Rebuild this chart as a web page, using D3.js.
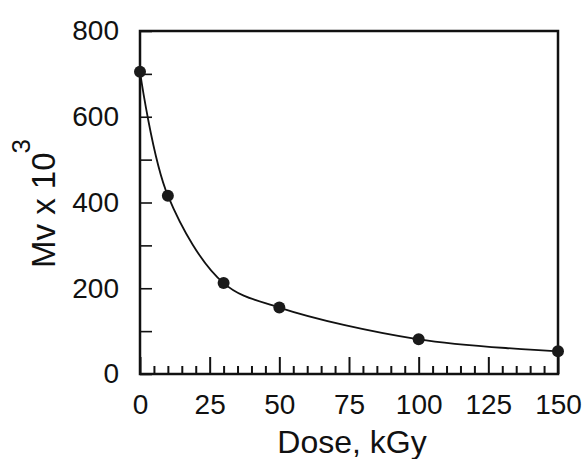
<!DOCTYPE html>
<html>
<head>
<meta charset="utf-8">
<script src="https://cdn.jsdelivr.net/npm/d3@7"></script>
<style>
  body { margin: 0; background: #fff; }
  text { font-family: "Liberation Sans", Arial, sans-serif; fill: #111; }
</style>
</head>
<body>
<div class="chart"></div>
<script>
var margin = { top: 31, right: 27, bottom: 85, left: 140 };

var width = 585 - margin.left - margin.right;
var height = 459 - margin.top - margin.bottom;

// data
var dose = [0, 10, 30, 50, 100, 150];
var mv = [705, 416, 212, 155, 81, 53];

var xTicks = [0, 25, 50, 75, 100, 125, 150];
var yTicks = [0, 200, 400, 600, 800];

var points = dose.map((d, i) => ({ dose: d, mv: mv[i] }));

var svg = d3.select('.chart')
  .append('svg')
    .attr('width', width + margin.left + margin.right)
    .attr('height', height + margin.top + margin.bottom)
  .append('g')
    .attr('transform', `translate(${margin.left}, ${margin.top})`);

var xScale = d3.scaleLinear()
  .domain([0, 150])
  .range([0, width]);

var yScale = d3.scaleLinear()
  .domain([0, 800])
  .range([height, 0]);

// inward ticks on x, every 5, taller every 25
var xTickMarks = svg.append('g')
  .attr('transform', `translate(0, ${height})`)
  .call(d3.axisTop(xScale).tickValues(d3.range(0, 151, 5)).tickSize(8).tickFormat(''));
xTickMarks.select('.domain').remove();
xTickMarks.selectAll('line')
  .attr('y2', d => d % 25 === 0 ? -17 : -8)
  .attr('stroke', '#111')
  .attr('stroke-width', 2);

// inward ticks on y, every 100
var yTickMarks = svg.append('g')
  .call(d3.axisRight(yScale).tickValues(d3.range(0, 801, 100)).tickSize(12).tickFormat(''));
yTickMarks.select('.domain').remove();
yTickMarks.selectAll('line')
  .attr('stroke', '#111')
  .attr('stroke-width', 1.6);

// tick labels
var xLabels = svg.append('g')
  .attr('transform', `translate(0, ${height})`)
  .call(d3.axisBottom(xScale).tickValues(xTicks).tickSize(0).tickPadding(20));
xLabels.select('.domain').remove();
xLabels.selectAll('text').style('font-size', '28px').style('font-family', '"Liberation Sans", Arial, sans-serif').attr('fill', '#111');

var yLabels = svg.append('g')
  .call(d3.axisLeft(yScale).tickValues(yTicks).tickSize(0).tickPadding(21));
yLabels.select('.domain').remove();
yLabels.selectAll('text').style('font-size', '28px').style('font-family', '"Liberation Sans", Arial, sans-serif').attr('fill', '#111');

// frame
svg.append('rect')
  .attr('x', 0)
  .attr('y', 0)
  .attr('width', width)
  .attr('height', height)
  .attr('fill', 'none')
  .attr('stroke', '#111')
  .attr('stroke-width', 2.5);

// fitted curve
var line = d3.line()
  .x(d => xScale(d.dose))
  .y(d => yScale(d.mv))
  .curve(d3.curveCatmullRom.alpha(0.5));

svg.append('path')
  .datum(points)
  .attr('d', line)
  .attr('fill', 'none')
  .attr('stroke', '#111')
  .attr('stroke-width', 1.8);

svg.selectAll('circle')
  .data(points)
  .enter()
  .append('circle')
  .attr('cx', d => xScale(d.dose))
  .attr('cy', d => yScale(d.mv))
  .attr('r', 6)
  .attr('fill', '#1a1a1a');

// axis titles
svg.append('text')
  .attr('x', width / 2 + 3)
  .attr('y', height + 79)
  .attr('text-anchor', 'middle')
  .style('font-size', '32px')
  .text('Dose, kGy');

var yTitle = svg.append('text')
  .attr('transform', `translate(${55 - margin.left}, ${268 - margin.top}) rotate(-90)`)
  .attr('text-anchor', 'start')
  .style('font-size', '33px');
yTitle.append('tspan').text('Mv x 10');
yTitle.append('tspan')
  .attr('dx', -1)
  .attr('dy', -25)
  .style('font-size', '26px')
  .text('3');
</script>
</body>
</html>
